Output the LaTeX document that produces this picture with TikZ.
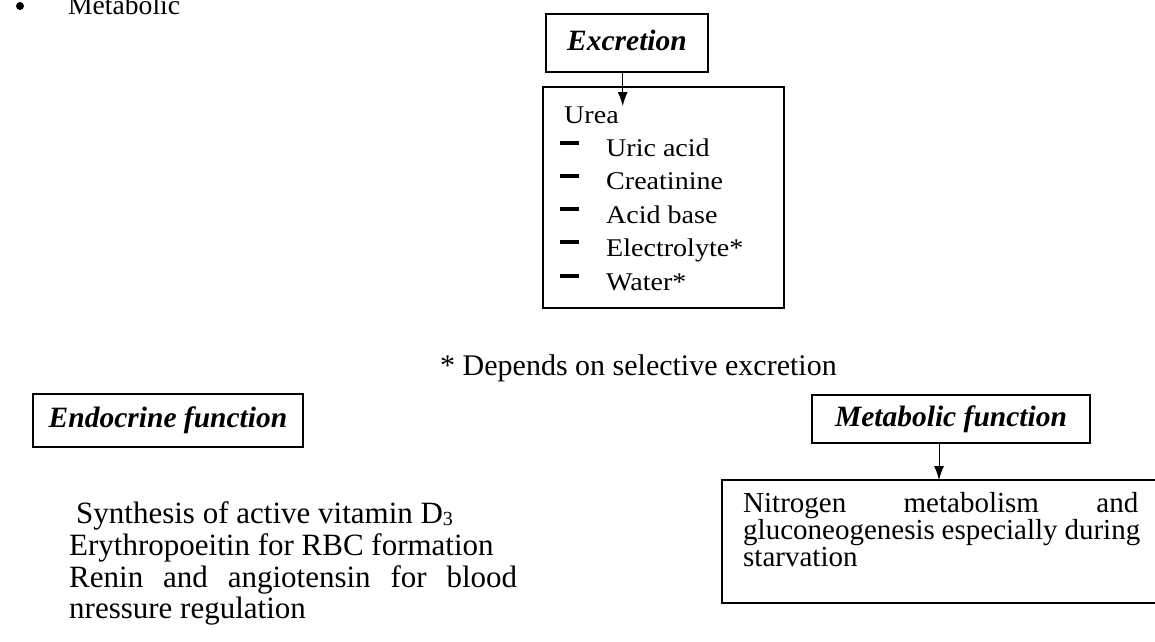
\documentclass[tikz,border=0pt]{standalone}
\usepackage{fontspec}
\setmainfont{Liberation Serif}
\newfontfamily\listfont[FakeStretch=1.1]{Liberation Serif}
\usetikzlibrary{arrows.meta}
\begin{document}
\begin{tikzpicture}[x=1pt,y=-1pt,
  box/.style={draw, line width=1.3pt, inner sep=0pt},
  head/.style={box, font=\fontsize{29.5}{30}\selectfont\bfseries\itshape, text height=20pt, text depth=6pt},
  txt/.style={anchor=base west, inner sep=0pt},
  listtxt/.style={txt, font=\listfont\fontsize{25.5}{26}\selectfont},
  endotxt/.style={txt, font=\fontsize{31}{32}\selectfont},
  metatxt/.style={txt, font=\fontsize{29}{30}\selectfont},
  dashmark/.style={line width=4pt},
  arr/.style={-{Latex[length=14pt,width=10pt]}, line width=1pt}
]
\useasboundingbox (0,0) rectangle (1155,641);

% top-left fragment
\fill (20,6) circle (4pt);
\node[txt, font=\fontsize{27.6}{28}\selectfont] (metab) at (68,14) {Metabolic};

% Excretion
\node[head, minimum width=162pt, minimum height=58pt] (ex) at (627,43) {Excretion};
\node[box, minimum width=241pt, minimum height=221pt] (lst) at (663.5,197.5) {};
\coordinate (tipA) at (622.7,106);
\draw[arr] (ex.south -| tipA) -- (tipA);

\node[listtxt] (urea) at (564,123) {Urea};
\foreach \y/\t/\n in {156.7/Uric acid/a, 189.5/Creatinine/b, 223/Acid base/c, 256/Electrolyte*/d, 290/Water*/e}{
  \draw[dashmark] (560,\y-14) -- (579,\y-14);
  \node[listtxt] (item\n) at (606,\y) {\t};
}

\node[txt, font=\fontsize{30}{30}\selectfont] (note) at (440,375) {* Depends on selective excretion};

% Endocrine
\node[head, minimum width=270pt, minimum height=53pt] (endo) at (168,420.5) {Endocrine function};
\node[endotxt] (e1) at (76,523) {Synthesis of active vitamin D\raisebox{-2.5pt}{\fontsize{20}{20}\selectfont 3}};
\node[endotxt] (e2) at (69,555) {Erythropoeitin for RBC formation};
\node[endotxt] (e3) at (69,587) {\makebox[448pt][s]{Renin and angiotensin for blood}};
\node[endotxt] (e4) at (69,618) {nressure regulation};

% Metabolic function
\node[head, minimum width=278pt, minimum height=48pt] (meta) at (951,419) {Metabolic function};
\node[box, minimum width=443pt, minimum height=123pt] (mbox) at (943.5,541.5) {};
\coordinate (tipB) at (939,480);
\draw[arr] (meta.south -| tipB) -- (tipB);
\node[metatxt] (m1) at (743,512) {\makebox[395pt][s]{Nitrogen metabolism and}};
\node[metatxt] (m2) at (743,539) {\makebox[397pt][s]{gluconeogenesis especially during}};
\node[metatxt] (m3) at (743,566) {starvation};
\end{tikzpicture}
\end{document}
